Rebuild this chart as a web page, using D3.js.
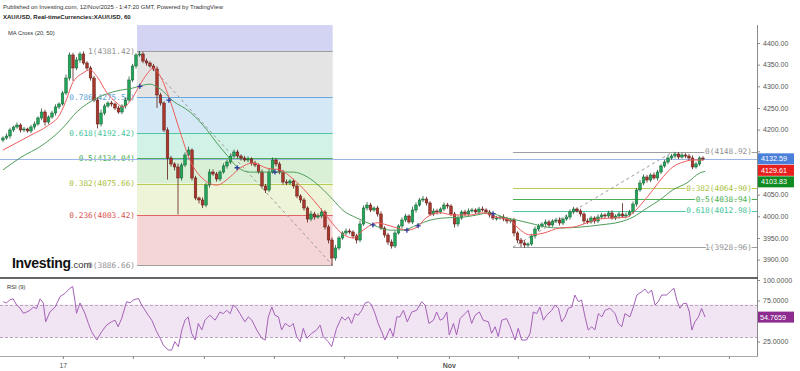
<!DOCTYPE html>
<html>
<head>
<meta charset="utf-8">
<script src="https://cdn.jsdelivr.net/npm/d3@7"></script>
<style>
body { margin: 0; background: #fff; }
svg { display: block; font-family: "Liberation Sans", Arial, sans-serif; }
.fib { font-family: "DejaVu Sans Mono", monospace; font-size: 7.8px; }
.ax text { font-size: 7px; fill: #555; font-family: "Liberation Sans", Arial, sans-serif; }
.ax line { stroke: #888; }
</style>
</head>
<body>
<script>
// hourly XAU/USD (one bar here ~ 2.3 h)
var firstOpen = 4176.0;
var closes = [
  4180.7,4185.3,4199.2,4206.1,4210.7,4199.2,4201.5,4196.9,4206.1,4213.0,4226.9,4240.7,4217.6,4229.2,4238.4,4252.3,4259.2,4284.6,4319.2,4372.3,
  4342.3,4360.8,4374.6,4353.8,4342.3,4319.2,4268.4,4213.0,4238.4,4254.6,4261.5,4259.2,4250.0,4240.7,4254.6,4268.4,4314.6,4346.9,4372.3,4374.6,
  4358.4,4353.8,4346.9,4340.0,4280.0,4261.5,4199.2,4134.5,4120.7,4113.8,4088.4,4118.4,4141.5,4153.0,4088.4,4042.2,4037.6,4026.0,4072.2,4102.2,
  4097.6,4086.1,4102.2,4116.1,4125.3,4139.1,4148.4,4139.1,4134.5,4129.9,4132.2,4123.0,4118.4,4102.2,4069.9,4060.7,4102.2,4129.9,4120.7,4102.2,
  4079.1,4076.8,4081.4,4069.9,4046.8,4037.6,4019.1,3993.7,4005.3,3998.3,4000.6,4009.9,3975.3,3945.2,3903.7,3926.8,3949.9,3961.4,3966.0,3963.7,
  3954.5,3945.2,3982.2,4019.1,4026.0,4014.5,4019.1,4005.3,3972.9,3956.8,3940.6,3931.4,3961.4,3977.6,3991.4,4000.6,3986.8,4014.5,4026.0,4037.6,
  4039.9,4030.7,4005.3,4012.2,4009.9,4016.8,4026.0,4023.7,4005.3,3982.2,3996.0,4009.9,4005.3,4012.2,4014.5,4009.9,4016.8,4014.5,4009.9,4003.0,
  3996.0,3996.0,3998.3,3993.7,3989.1,3991.4,3961.4,3945.2,3938.3,3933.7,3936.0,3954.5,3970.6,3977.6,3982.2,3986.8,3979.9,3989.1,3991.4,3984.5,
  3993.7,3998.3,4009.9,4016.8,4012.2,4005.3,3989.1,3986.8,3996.0,3989.1,3998.3,4003.0,4000.6,4007.6,3996.0,4000.6,4005.3,4000.6,4003.0,4009.9,
  4028.3,4060.7,4076.8,4090.7,4083.7,4095.3,4088.4,4102.2,4116.1,4125.3,4134.5,4139.1,4143.8,4136.8,4141.5,4139.1,4134.5,4113.8,4120.7,4134.5,
  4132.59
];
var wickHi = [
  4,6,5,3,6,4,5,3,5,6,4,8,5,4,5,6,4,5,8,6,
  5,7,5,6,4,5,5,6,8,5,4,5,3,5,4,6,8,5,4,7,
  5,6,4,5,6,5,4,6,5,4,8,5,6,8,4,5,3,6,5,7,
  6,5,4,6,5,4,6,5,4,5,6,4,5,4,6,5,8,6,4,5,
  5,6,4,5,6,4,5,4,7,5,6,8,4,5,6,7,5,4,6,5,
  4,5,8,6,7,5,4,5,6,4,5,6,5,4,6,5,4,8,6,5,
  7,5,4,6,5,4,6,5,4,5,6,4,5,6,5,4,5,6,4,5,
  4,5,4,6,5,4,5,4,5,6,4,5,6,5,4,6,5,4,5,6,
  4,5,6,5,4,5,4,6,5,4,6,5,4,5,6,4,5,25,6,5,
  6,5,7,6,5,4,6,5,4,5,6,5,5,4,5,4,5,6,5,4,
  4
];
var wickLo = [
  5,4,6,5,4,6,5,4,5,6,4,5,8,5,4,6,5,4,5,6,
  30,5,6,4,5,6,5,10,6,5,4,6,5,4,5,6,4,5,6,4,
  5,6,4,5,30,6,5,50,6,8,84,6,5,4,6,5,8,7,5,6,
  4,6,5,4,6,5,4,5,6,4,5,6,5,4,6,7,5,4,6,5,
  6,5,4,6,5,7,6,8,5,6,4,5,6,8,17,6,5,4,6,5,
  6,8,5,4,6,5,4,6,5,6,7,6,5,4,6,5,4,5,6,4,
  5,6,4,5,6,4,5,6,5,8,6,4,5,6,4,5,6,4,5,6,
  5,6,4,5,6,5,8,7,9.3,6,5,4,6,5,4,6,5,4,5,6,
  5,4,6,5,4,6,7,5,4,6,5,4,6,5,4,5,6,4,5,4,
  5,6,4,5,6,5,4,6,5,4,5,4,6,5,4,5,6,5,4,5,
  4
];

var ma20T = [0,4.9,8.6,12.6,16.3,18.3,19.7,22.9,24.9,26.9,29.7,32.6,34.3,37.1,39.1,41.1,42.9,44.9,47.7,50.6,53.4,56.3,61.1,64.9,67.7,71.4,75.4,79.1,82.9,86.9,90.6,93.4,96.3,100,102.9,106.9,109.7,112.6,115.4,118.3,121.1,124.9,128.6,133.4,137.1,141.1,144.9,146.9,150.6,154.3,159.1,162.9,166.9,170.6,174.3,178.3,180,182.9,185.7,188.6,191.4,194.3,197.1,200];
var ma20V = [4153,4174,4190,4208,4236,4273,4305,4331,4338,4322,4285,4261,4252,4275,4303,4328,4342,4324,4268,4195,4130,4093,4072,4091,4111,4123,4111,4107,4086,4054,4019,3991,3964,3950,3968,3985,3980,3973,3968,3975,3998,4008,4003,4003,4008,3998,3991,3975,3957,3961,3973,3975,3985,3994,3996,3998,4008,4033,4061,4091,4114,4125,4130,4129.61];
var ma50T = [0,4.9,11.4,17.1,21.1,25.7,31.4,37.1,42,44.9,48.6,53.4,58.3,61.1,64,66.9,70.6,75.4,79.1,82.9,86.9,90.6,94.3,97.1,101.1,105.7,110.6,114.3,118.3,122,125.7,131.4,135.4,139.1,142.9,146.9,150.6,155.4,159.1,164.9,170.6,176.3,180,184,187.7,191.4,195.4,199.1,200.6];
var ma50V = [4107,4135,4165,4204,4241,4268,4287,4296,4305,4294,4266,4241,4199,4169,4141,4114,4102,4102,4102,4102,4091,4068,4038,4014,3996,3980,3968,3968,3980,3991,3996,3998,4003,4008,3998,3991,3984,3975,3973,3975,3980,3987,3998,4019,4038,4061,4077,4100,4103.83];
var crossT = [39.1, 47.4, 66.9, 77.7, 105.7, 115.4, 118.6, 140];
var crossV = [4300, 4268, 4112, 4102, 3980, 3968, 3978, 4006];

var rsiT = [0.1,1.0,2.0,2.9,3.9,4.9,5.8,6.8,7.7,8.7,9.6,10.6,11.5,12.2,13.4,14.9,16.3,17.7,19.1,19.9,20.6,21.0,22.0,23.4,24.4,25.3,26.8,28.2,29.6,31.0,32.0,32.9,33.9,35.3,36.3,37.2,38.7,39.6,40.6,41.5,42.5,43.9,44.9,45.8,47.2,48.2,49.1,50.1,51.1,52.0,52.9,53.9,54.9,55.8,56.8,57.7,59.1,60.6,62.0,62.9,63.9,64.9,65.8,66.8,67.7,69.1,70.1,71.1,72.5,73.9,74.9,75.8,76.8,77.7,78.7,79.6,80.6,82.0,82.9,83.9,84.9,85.8,86.8,88.2,89.6,90.6,91.5,92.9,93.9,95.3,96.8,97.7,98.7,99.6,100.6,101.5,102.5,103.4,104.4,105.3,106.3,107.2,108.2,109.1,110.6,111.5,112.5,113.4,114.4,115.5,116.8,118.2,119.6,120.6,121.7,123.0,123.9,124.9,125.8,126.8,127.5,128.7,129.6,130.6,132.0,132.9,133.9,134.9,136.1,137.2,138.7,139.6,140.6,141.5,142.5,143.9,144.9,146.3,147.2,148.2,149.6,150.6,151.5,152.5,153.4,154.4,155.3,156.8,157.7,158.7,159.6,160.6,161.5,162.5,163.4,164.4,165.3,166.3,167.2,168.2,169.1,170.1,171.1,172.0,173.4,174.9,175.8,176.8,177.7,179.1,180.1,181.1,182.5,183.4,184.4,185.3,186.3,187.2,188.2,189.6,191.1,191.7,192.5,193.4,194.4,195.3,196.1,196.8,197.7,198.7,199.6,200.6];
var rsiV = [73.5,72,76,77,69.5,65.5,59.4,61,63,67,65,77,72,49,61,67,79.7,83.7,89.8,92,73.5,59.4,72,59.4,47,37,26.8,37,45,49,51,43,53,73.5,72,75.6,77.6,69.5,63,57,51,37,29,20.7,14.6,14.6,24.8,18.7,39,51,55,35,26.8,47,39,51,57,51,61,59,63,59,69.5,65.5,59,49,55,51,39,29,26.8,55,67,57,55,39,47,43,47,31,24.8,41,29,35,39,45,31,24.8,18.7,41,55,51,55,47,59,57,63,71.5,73.5,69.5,59,47,37,26.8,41,31,55,55,63,49,61,63,73.5,69.5,47,51,61,51,53,61,33,47,33,53,59,63,47,57,61,51,49,35,43,31,51,53,43,26.8,41,26.8,26.8,35,61,59,67,51,57,63,69.5,65.5,49,55,65.5,67,81.7,73.5,75.6,55,39,43,39,59,55,63,65.5,59,47,43,59,55,67,81.7,85.7,89,83.7,87.8,69.5,73.5,81.7,81.7,87.8,90,75.6,65.5,71.5,71.5,61,39,49,55,65.5,54.7659];

var fibLeftLevels = [1.272, 1, 0.786, 0.618, 0.5, 0.382, 0.236, 0];
var fibLeftHigh = 4381.42, fibLeftLow = 3886.66, fibLeftFrom = 38.3, fibLeftTo = 94.2;
var fibRightLevels = [0, 0.382, 0.5, 0.618, 1];
var fibRightHigh = 4148.92, fibRightLow = 3928.96, fibRightFrom = 145.7, fibRightTo = 191.4;

var priceTicks = [3900, 3950, 4000, 4050, 4100, 4150, 4200, 4250, 4300, 4350, 4400];
var rsiTicks = [25, 75, 100];
var timeTicks = [17.1, 37.1, 57.4, 77.4, 97.4, 112.6, 127.4, 147.1, 167.4, 187.4, 207.4];
var timeLabels = ["17", "", "", "", "", "", "Nov", "", "", "", ""];

var levelColor = {
  "1.272": "#9fa3e0", "1": "#9e9e9e", "0.786": "#6aa8dc", "0.618": "#4fc7a2",
  "0.5": "#4caf50", "0.382": "#b6cc55", "0.236": "#e06666", "0": "#9e9e9e"
};
var bandColor = {
  "1.272": "#d3d4f4", "1": "#e4e4e4", "0.786": "#d4e9f5", "0.618": "#d2f2e7",
  "0.5": "#d9f0d7", "0.382": "#eef4d7", "0.236": "#f5d6d6"
};
var labelColor = {
  "1": "#8f8f8f", "0.786": "#5da2d8", "0.618": "#3fc49b", "0.5": "#46ad4c",
  "0.382": "#a7c13d", "0.236": "#d9534f", "0": "#8f8f8f"
};

var width = 800, height = 371, plotRight = 757;
var priceTop = 25, priceBottom = 277, rsiTop = 279, rsiBottom = 356;

var svg = d3.select("body").append("svg").attr("width", width).attr("height", height);
svg.append("rect").attr("width", width).attr("height", height).attr("fill", "#fff");

var x = d3.scaleLinear().domain([0, 200]).range([3, 703]);
var y = d3.scaleLinear().domain([3900, 4400]).range([259.6, 43.0]);
var yr = d3.scaleLinear().domain([0, 100]).range([362, 280]);

var defs = svg.append("defs");
defs.append("clipPath").attr("id", "clip-price").append("rect")
  .attr("x", 0).attr("y", priceTop).attr("width", plotRight).attr("height", priceBottom - priceTop);
defs.append("clipPath").attr("id", "clip-rsi").append("rect")
  .attr("x", 0).attr("y", rsiTop).attr("width", plotRight).attr("height", rsiBottom - rsiTop);

var plot = svg.append("g").attr("clip-path", "url(#clip-price)");

// left fibonacci retracement
var fibL = fibLeftLevels.map(function(l) {
  return { level: l, price: fibLeftLow + l * (fibLeftHigh - fibLeftLow) };
});
var x0 = x(fibLeftFrom), x1 = x(fibLeftTo);
plot.selectAll(".band").data(fibL.slice(0, -1)).enter().append("rect")
  .attr("x", x0).attr("width", x1 - x0)
  .attr("y", function(d) { return y(d.price); })
  .attr("height", function(d, i) { return y(fibL[i + 1].price) - y(d.price); })
  .attr("fill", function(d) { return bandColor[String(d.level)]; });
plot.selectAll(".fl").data(fibL).enter().append("line")
  .attr("x1", x0).attr("x2", x1)
  .attr("y1", function(d) { return Math.round(y(d.price)) + 0.5; })
  .attr("y2", function(d) { return Math.round(y(d.price)) + 0.5; })
  .attr("stroke", function(d) { return levelColor[String(d.level)]; })
  .attr("stroke-width", 1);
plot.append("line")
  .attr("x1", x0).attr("y1", y(fibLeftHigh)).attr("x2", x1).attr("y2", y(fibLeftLow))
  .attr("stroke", "#9a9a9a").attr("stroke-dasharray", "3,3");

// labels sit under the candles, as in the original
svg.append("g").selectAll("text").data(fibL.filter(function(d) { return d.level <= 1; })).enter().append("text")
  .attr("class", "fib")
  .attr("x", x0 - 2).attr("y", function(d) { return y(d.price); })
  .attr("dy", "0.35em").attr("text-anchor", "end")
  .attr("fill", function(d) { return labelColor[String(d.level)]; })
  .text(function(d) { return d.level + "(" + d.price.toFixed(2) + ")"; });

// right fibonacci retracement
var fibR = fibRightLevels.map(function(l) {
  return { level: l, price: fibRightHigh - l * (fibRightHigh - fibRightLow) };
});
plot.selectAll(".fr").data(fibR).enter().append("line")
  .attr("x1", x(fibRightFrom)).attr("x2", plotRight)
  .attr("y1", function(d) { return Math.round(y(d.price)) + 0.5; })
  .attr("y2", function(d) { return Math.round(y(d.price)) + 0.5; })
  .attr("stroke", function(d) { return levelColor[String(d.level)]; });
plot.append("line")
  .attr("x1", x(fibRightFrom)).attr("y1", y(fibRightLow)).attr("x2", x(fibRightTo)).attr("y2", y(fibRightHigh))
  .attr("stroke", "#9a9a9a").attr("stroke-dasharray", "3,3");

// last price line
var lastClose = closes[closes.length - 1];
var front = svg.append("g").attr("clip-path", "url(#clip-price)");
front.append("line")
  .attr("x1", 0).attr("x2", plotRight)
  .attr("y1", Math.round(y(lastClose)) + 0.5).attr("y2", Math.round(y(lastClose)) + 0.5)
  .attr("stroke", "#9db4e8");

// candles
var candles = closes.map(function(c, i) {
  var o = i ? closes[i - 1] : firstOpen;
  return { i: i, o: o, c: c, h: Math.max(o, c) + wickHi[i], l: Math.min(o, c) - wickLo[i] };
});
var cg = front.append("g");
cg.selectAll(".wick").data(candles).enter().append("line")
  .attr("x1", function(d) { return x(d.i); }).attr("x2", function(d) { return x(d.i); })
  .attr("y1", function(d) { return y(d.h); }).attr("y2", function(d) { return y(d.l); })
  .attr("stroke", function(d) { return d.c >= d.o ? "#1d5f36" : "#5e1d17"; })
  .attr("stroke-width", 0.8);
cg.selectAll(".body").data(candles).enter().append("rect")
  .attr("x", function(d) { return x(d.i) - 1.3; }).attr("width", 2.6)
  .attr("y", function(d) { return y(Math.max(d.o, d.c)); })
  .attr("height", function(d) { return Math.max(1, Math.abs(y(d.o) - y(d.c))); })
  .attr("fill", function(d) { return d.c >= d.o ? "#1fa557" : "#a9352b"; })
  .attr("stroke", function(d) { return d.c >= d.o ? "#1d5f36" : "#5e1d17"; })
  .attr("stroke-width", 0.5);

// MA cross (20, 50)
var maLine = d3.line().curve(d3.curveMonotoneX)
  .x(function(d) { return x(d[0]); }).y(function(d) { return y(d[1]); });
front.append("path").datum(d3.zip(ma50T, ma50V)).attr("d", maLine)
  .attr("fill", "none").attr("stroke", "#4f9d5a").attr("stroke-width", 1);
front.append("path").datum(d3.zip(ma20T, ma20V)).attr("d", maLine)
  .attr("fill", "none").attr("stroke", "#ef5b5b").attr("stroke-width", 1);
front.selectAll(".cross").data(d3.zip(crossT, crossV)).enter().append("path")
  .attr("d", function(d) {
    var cx = x(d[0]), cy = y(d[1]);
    return "M" + (cx - 2.5) + "," + cy + "H" + (cx + 2.5) + "M" + cx + "," + (cy - 2.5) + "V" + (cy + 2.5);
  })
  .attr("stroke", "#2b3a9a").attr("stroke-width", 1.3);

// right fib labels
svg.selectAll(".fibLabR").data(fibR).enter().append("text")
  .attr("class", "fib")
  .attr("x", 752).attr("y", function(d) { return y(d.price); })
  .attr("dy", "0.35em").attr("text-anchor", "end")
  .attr("fill", function(d) { return labelColor[String(d.level)]; })
  .attr("stroke", "#fff").attr("stroke-width", 2.5).attr("paint-order", "stroke")
  .text(function(d) { return d.level + "(" + d.price.toFixed(2) + ")"; });

// last value tags, stacked so they do not overlap
var tags = [
  { v: lastClose, bg: "#4a7fda" },
  { v: ma20V[ma20V.length - 1], bg: "#e8211f" },
  { v: ma50V[ma50V.length - 1], bg: "#108a22" }
];
var prevY = -100;
tags.forEach(function(t) {
  t.y = Math.max(y(t.v), prevY + 11.5);
  prevY = t.y;
});

// price axis, tick labels hidden where a tag covers them
var pax = svg.append("g").attr("class", "ax").attr("transform", "translate(" + plotRight + ",0)")
  .call(d3.axisRight(y).tickValues(priceTicks).tickFormat(d3.format(".2f")).tickSize(3).tickPadding(3));
pax.select(".domain").remove();
pax.selectAll(".tick text").filter(function(d) {
  return tags.some(function(t) { return Math.abs(y(d) - t.y) < 9; });
}).remove();

tags.forEach(function(t) {
  svg.append("rect").attr("x", plotRight + 1).attr("y", t.y - 5.5).attr("width", 36).attr("height", 11).attr("fill", t.bg);
  svg.append("text").attr("x", plotRight + 4).attr("y", t.y).attr("dy", "0.35em")
    .attr("font-size", 7.2).attr("fill", "#fff").text(t.v.toFixed(2));
});

// RSI panel
var rg = svg.append("g").attr("clip-path", "url(#clip-rsi)");
rg.append("rect").attr("x", 0).attr("width", plotRight)
  .attr("y", yr(70)).attr("height", yr(30) - yr(70)).attr("fill", "#f1e5f3");
[70, 30].forEach(function(v) {
  rg.append("line").attr("x1", 0).attr("x2", plotRight)
    .attr("y1", Math.round(yr(v)) + 0.5).attr("y2", Math.round(yr(v)) + 0.5)
    .attr("stroke", "#b9a3bd").attr("stroke-dasharray", "3,2");
});
rg.append("path").datum(d3.zip(rsiT, rsiV))
  .attr("d", d3.line().x(function(d) { return x(d[0]); }).y(function(d) { return yr(d[1]); }))
  .attr("fill", "none").attr("stroke", "#a461b8").attr("stroke-width", 1);

var rax = svg.append("g").attr("class", "ax").attr("transform", "translate(" + plotRight + ",0)")
  .call(d3.axisRight(yr).tickValues(rsiTicks).tickFormat(d3.format(".4f")).tickSize(3).tickPadding(3));
rax.select(".domain").remove();
var lastRsi = rsiV[rsiV.length - 1];
svg.append("rect").attr("x", plotRight + 1).attr("y", yr(lastRsi) - 5.5).attr("width", 36).attr("height", 11).attr("fill", "#8c2d8f");
svg.append("text").attr("x", plotRight + 3).attr("y", yr(lastRsi)).attr("dy", "0.35em")
  .attr("font-size", 7.2).attr("fill", "#fff").text(lastRsi.toFixed(4));

// frame lines
svg.append("line").attr("x1", plotRight + 0.5).attr("x2", plotRight + 0.5).attr("y1", priceTop).attr("y2", rsiBottom)
  .attr("stroke", "#8a8a8a");
svg.append("line").attr("x1", 0).attr("x2", plotRight + 1).attr("y1", 278).attr("y2", 278)
  .attr("stroke", "#333").attr("stroke-width", 1.6);

// time axis
var tax = svg.append("g").attr("class", "ax").attr("transform", "translate(0," + rsiBottom + ")")
  .call(d3.axisBottom(x).tickValues(timeTicks).tickFormat(function(d, i) { return timeLabels[i]; }).tickSize(3).tickPadding(4));
tax.select(".domain").attr("d", "M0,0.5H" + (plotRight + 1)).attr("stroke", "#aaa");
tax.selectAll("text").filter(function(d, i) { return timeLabels[i] === "Nov"; }).attr("font-weight", "bold").attr("fill", "#444");

// header texts
svg.append("text").attr("x", 3).attr("y", 8.5).attr("font-size", 6).attr("fill", "#333")
  .text("Published on Investing.com, 12/Nov/2025 - 1:47:20 GMT, Powered by TradingView");
svg.append("text").attr("x", 3).attr("y", 19).attr("font-size", 6).attr("font-weight", "bold").attr("fill", "#222")
  .text("XAU/USD, Real-timeCurrencies:XAU/USD, 60");
svg.append("text").attr("x", 8).attr("y", 35).attr("font-size", 5.8).attr("fill", "#333").text("MA Cross (20, 50)");
svg.append("text").attr("x", 7).attr("y", 289).attr("font-size", 5.8).attr("fill", "#333").text("RSI (9)");

// watermark
var logo = svg.append("text").attr("x", 12).attr("y", 268).attr("fill", "#111");
logo.append("tspan").attr("font-size", 14).attr("font-weight", "bold").attr("letter-spacing", -0.3).text("Investing");
logo.append("tspan").attr("font-size", 9.5).attr("fill", "#333").text(".com");
</script>
</body>
</html>
